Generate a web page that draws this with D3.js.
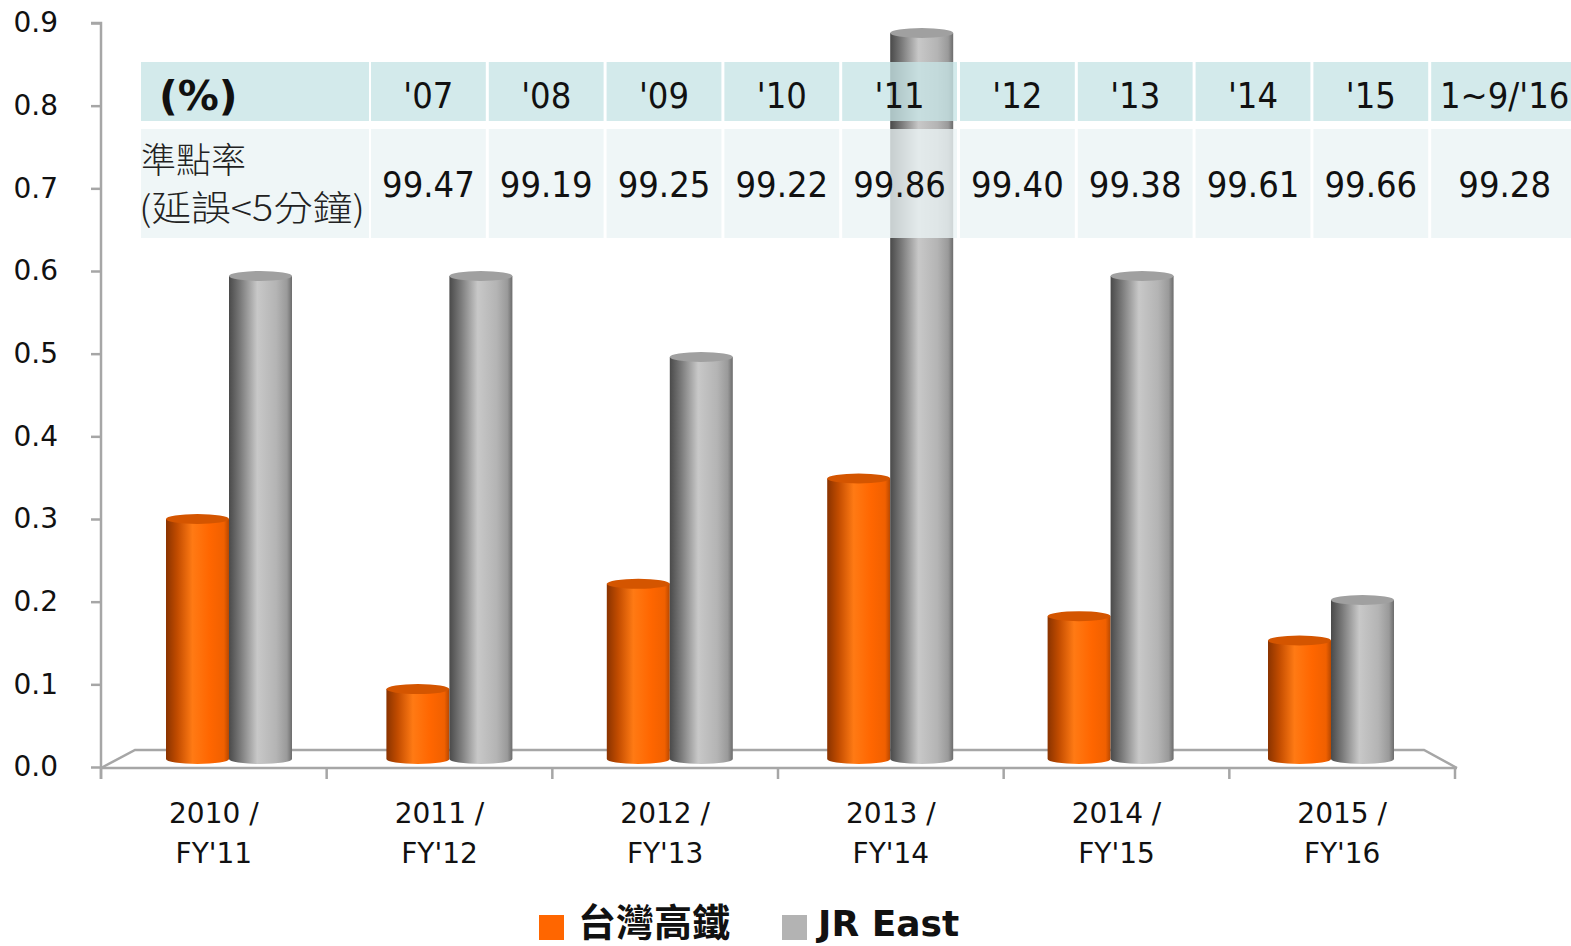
<!DOCTYPE html>
<html>
<head>
<meta charset="utf-8">
<script src="https://cdn.jsdelivr.net/npm/d3@7"></script>
<style>
body { margin:0; background:#fff; overflow:hidden; }
svg { display:block; }
</style>
</head>
<body>
<div id="chart"></div>
<script>
// data
var categories = ["2010 /|FY'11", "2011 /|FY'12", "2012 /|FY'13", "2013 /|FY'14", "2014 /|FY'15", "2015 /|FY'16"];
var thsr = [0.30, 0.09, 0.22, 0.35, 0.18, 0.15];
var jrEast = [0.60, 0.60, 0.50, 0.90, 0.60, 0.20];
var yTicks = [0, 0.1, 0.2, 0.3, 0.4, 0.5, 0.6, 0.7, 0.8, 0.9];
var tableYears = ["'07", "'08", "'09", "'10", "'11", "'12", "'13", "'14", "'15", "1~9/'16"];
var punctuality = ["99.47", "99.19", "99.25", "99.22", "99.86", "99.40", "99.38", "99.61", "99.66", "99.28"];
var seriesNames = ["台灣高鐵", "JR East"];

var width = 1571, height = 946;
var axisFont = "'DejaVu Sans', Verdana, sans-serif";
var tableFont = "'DejaVu Sans Condensed', 'DejaVu Sans', Tahoma, sans-serif";
var cjkFont = "'Noto Sans CJK TC', 'Noto Sans CJK SC', sans-serif";

var svg = d3.select("#chart").append("svg")
     .attr("width", width)
     .attr("height", height);

var defs = svg.append("defs");
function cylGrad(id, stops) {
  var g = defs.append("linearGradient").attr("id", id)
       .attr("x1", "0%").attr("x2", "100%").attr("y1", "0%").attr("y2", "0%");
  stops.forEach(function (s) {
       g.append("stop").attr("offset", s[0]).attr("stop-color", s[1]);
  });
}
cylGrad("gOrange", [["0%", "#8a3300"], ["18%", "#c24c00"], ["42%", "#ff7a14"], ["70%", "#ff6600"], ["92%", "#f06000"], ["100%", "#b84800"]]);
cylGrad("gGray", [["0%", "#4a4a4a"], ["18%", "#7a7a7a"], ["45%", "#c8c8c8"], ["75%", "#b4b4b4"], ["92%", "#9a9a9a"], ["100%", "#6c6c6c"]]);

// scales: axis sits on the front plane, bars sit half a step deeper
var y = d3.scaleLinear().domain([0, 0.9]).range([767, 23]);
var yBar = d3.scaleLinear().domain([0, 0.9]).range([762, 33]);
var xFront = d3.scaleBand().domain(categories).range([101, 1455]);
var xBar = d3.scalePoint().domain(categories).range([229, 1331]);
var barW = 63, ry = 5;

// 3D floor
var floor = svg.append("g").attr("stroke", "#a6a6a6").attr("stroke-width", 2.5).attr("fill", "none");
floor.append("path").attr("d", "M101," + (y(0) + 1) + "L135," + (y(0) - 17) + "L1424," + (y(0) - 17) + "L1457," + (y(0) + 1));

// bars
function cylinder(g, cx, v, grad, topColor) {
  var x0 = cx, x1 = cx + barW, rx = barW / 2;
  var yt = yBar(v), yb = yBar(0) - 3;
  g.append("path")
     .attr("d", "M" + x0 + "," + yt + "L" + x0 + "," + yb + "A" + rx + "," + ry + " 0 0 0 " + x1 + "," + yb + "L" + x1 + "," + yt + "Z")
     .attr("fill", "url(#" + grad + ")");
  g.append("ellipse")
     .attr("cx", x0 + rx).attr("cy", yt).attr("rx", rx).attr("ry", ry)
     .attr("fill", topColor);
}
var bars = svg.append("g");
categories.forEach(function (c, i) {
  cylinder(bars, xBar(c) - barW, thsr[i], "gOrange", "#d45500");
  cylinder(bars, xBar(c), jrEast[i], "gGray", "#a0a0a0");
});

// axes
var yAxis = svg.append("g")
     .attr("transform", "translate(101,0)")
     .call(d3.axisLeft(y).tickValues(yTicks).tickSize(10).tickPadding(33).tickFormat(d3.format(".1f")));
yAxis.select(".domain").attr("d", "M-10," + y(0.9) + "H0V779");
var xAxis = svg.append("g")
     .attr("transform", "translate(0," + (y(0) + 1) + ")");
xAxis.append("line").attr("x1", 101).attr("x2", 1457).attr("y1", 0).attr("y2", 0);
xAxis.selectAll("line.tk").data([101].concat(categories.map(function (c) { return xFront(c) + xFront.bandwidth(); })))
     .enter().append("line").attr("class", "tk")
     .attr("x1", function (d) { return d; }).attr("x2", function (d) { return d; })
     .attr("y1", 0).attr("y2", 11);
xAxis.selectAll("line").attr("stroke", "#a6a6a6").attr("stroke-width", 2.5);
svg.selectAll(".domain, .tick line").attr("stroke", "#a6a6a6").attr("stroke-width", 2.5);
yAxis.selectAll("text").attr("font-family", axisFont).attr("font-size", 28).attr("fill", "#111");
yAxis.attr("font-family", null);

var xl = svg.append("g").selectAll("text").data(categories).enter().append("text")
     .attr("x", function (d) { return xFront(d) + xFront.bandwidth() / 2; })
     .attr("y", 823)
     .attr("text-anchor", "middle")
     .attr("font-family", axisFont).attr("font-size", 28).attr("fill", "#111");
xl.append("tspan").text(function (d) { return d.split("|")[0]; });
xl.append("tspan")
     .attr("x", function (d) { return xFront(d) + xFront.bandwidth() / 2; })
     .attr("dy", 40)
     .text(function (d) { return d.split("|")[1]; });

// table overlay
var colW = tableYears.map(function (d, i) { return i === tableYears.length - 1 ? 150 : 117.8; });
var colX = [];
var acc = 369;
colW.forEach(function (w) { colX.push(acc); acc += w; });
var tbl = svg.append("g");
tbl.append("rect").attr("x", 141).attr("y", 62).attr("width", 228).attr("height", 59).attr("fill", "#c7e4e6").attr("opacity", 0.78);
tbl.append("rect").attr("x", 141).attr("y", 129).attr("width", 228).attr("height", 109).attr("fill", "#eaf4f5").attr("opacity", 0.78);
tableYears.forEach(function (d, i) {
  tbl.append("rect").attr("x", colX[i] + 2).attr("y", 62).attr("width", colW[i] - 3).attr("height", 59)
       .attr("fill", "#c7e4e6").attr("opacity", 0.78);
  tbl.append("rect").attr("x", colX[i] + 2).attr("y", 129).attr("width", colW[i] - 3).attr("height", 109)
       .attr("fill", "#eaf4f5").attr("opacity", 0.78);
  tbl.append("text").attr("x", colX[i] + 2 + (colW[i] - 3) / 2).attr("y", 108)
       .attr("text-anchor", "middle").attr("font-family", tableFont).attr("font-size", 36).attr("fill", "#111")
       .text(d);
  tbl.append("text").attr("x", colX[i] + 2 + (colW[i] - 3) / 2).attr("y", 197)
       .attr("text-anchor", "middle").attr("font-family", tableFont).attr("font-size", 36).attr("fill", "#111")
       .text(punctuality[i]);
});
tbl.append("text").attr("x", 159).attr("y", 110).attr("font-family", axisFont).attr("font-weight", "bold")
     .attr("font-size", 41).attr("fill", "#111").text("(%)");
tbl.append("text").attr("x", 141).attr("y", 173).attr("font-family", cjkFont).attr("font-weight", 300)
     .attr("font-size", 35).attr("fill", "#222").text("準點率");
tbl.append("text").attr("x", 139).attr("y", 221).attr("font-family", cjkFont).attr("font-weight", 300).attr("font-size", 35)
     .attr("textLength", 226).attr("lengthAdjust", "spacingAndGlyphs").attr("fill", "#222").text("(延誤<5分鐘)");

// legend
var legend = svg.append("g");
var legX = [539, 782], legTx = [578, 818];
[["#ff6600"], ["#b3b3b3"]].forEach(function (c, i) {
  legend.append("rect").attr("x", legX[i]).attr("y", 915).attr("width", 25).attr("height", 25).attr("fill", c[0]);
  legend.append("text").attr("x", legTx[i]).attr("y", 936)
       .attr("font-family", i === 0 ? cjkFont : axisFont).attr("font-weight", "bold")
       .attr("font-size", i === 0 ? 38 : 36).attr("fill", "#111").text(seriesNames[i]);
});
</script>
</body>
</html>
